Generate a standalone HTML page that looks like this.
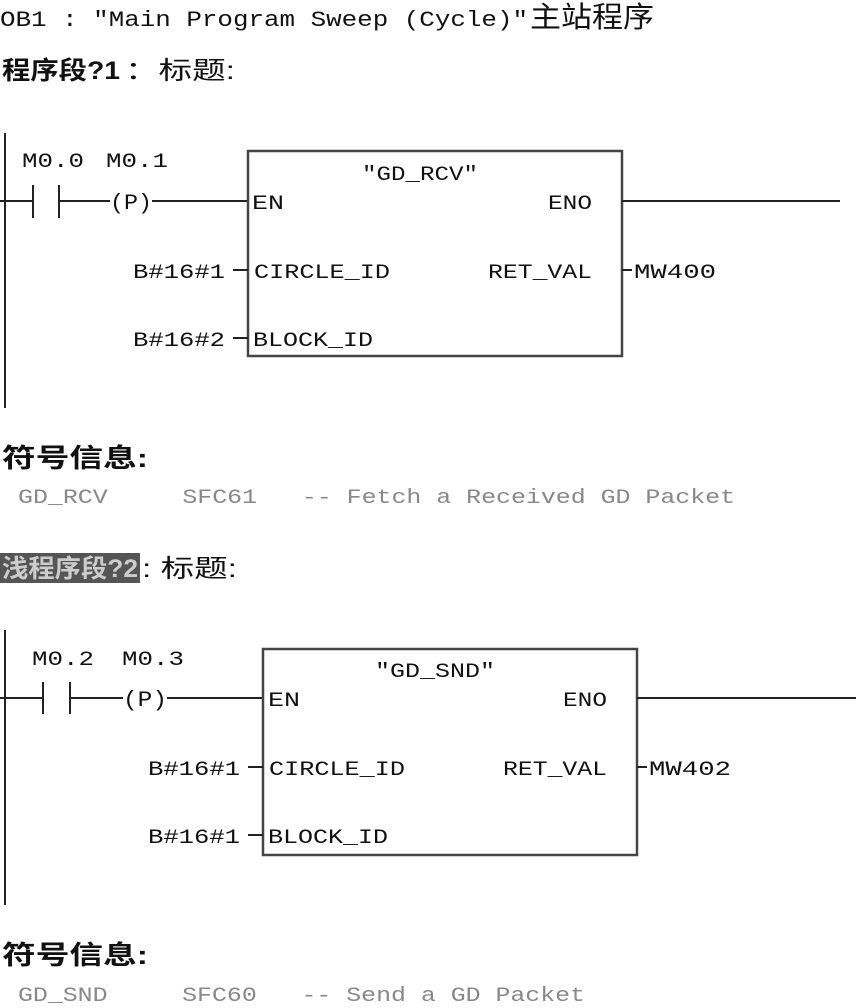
<!DOCTYPE html>
<html><head><meta charset="utf-8"><style>
html,body{margin:0;padding:0;background:#fff;width:856px;height:1008px;overflow:hidden}
svg{display:block}
.m{font-family:"Liberation Mono","Noto Serif CJK SC",monospace;fill:#111}
.c{font-family:"Liberation Sans","Noto Sans CJK SC",sans-serif;fill:#111}
.b{font-family:"Liberation Sans","Noto Sans CJK SC",sans-serif;font-weight:bold;fill:#111}
.g{font-family:"Liberation Mono",monospace;fill:#888}
</style></head><body>
<svg width="856" height="1008" viewBox="0 0 856 1008" xmlns="http://www.w3.org/2000/svg">
<g stroke="#222" stroke-width="2" fill="none">
<!-- network 1 -->
<line x1="5" y1="133" x2="5" y2="408"/>
<line x1="0" y1="201" x2="33" y2="201"/>
<line x1="33" y1="185" x2="33" y2="218"/>
<line x1="59" y1="185" x2="59" y2="218"/>
<line x1="59" y1="201" x2="110" y2="201"/>
<line x1="152" y1="201" x2="248" y2="201"/>
<rect x="248" y="151" width="374" height="205" stroke="#444" stroke-width="2.5"/>
<line x1="622" y1="201" x2="840" y2="201"/>
<line x1="233" y1="270" x2="248" y2="270"/>
<line x1="233" y1="338" x2="248" y2="338"/>
<line x1="622" y1="270" x2="632" y2="270"/>
<!-- network 2 -->
<line x1="5" y1="630" x2="5" y2="905"/>
<line x1="0" y1="698" x2="43" y2="698"/>
<line x1="43" y1="682" x2="43" y2="714"/>
<line x1="70" y1="682" x2="70" y2="714"/>
<line x1="70" y1="698" x2="123" y2="698"/>
<line x1="167" y1="698" x2="263" y2="698"/>
<rect x="263" y="649" width="374" height="206" stroke="#444" stroke-width="2.5"/>
<line x1="637" y1="698" x2="856" y2="698"/>
<line x1="248" y1="767" x2="263" y2="767"/>
<line x1="248" y1="835" x2="263" y2="835"/>
<line x1="637" y1="767" x2="647" y2="767"/>
</g>
<text class="m" x="0" y="26" font-size="22" textLength="528" lengthAdjust="spacingAndGlyphs">OB1 :  ″Main Program Sweep (Cycle)″</text>
<text class="c" x="530" y="27" font-size="29" textLength="124" lengthAdjust="spacingAndGlyphs">主站程序</text>
<text class="b" x="2" y="79" font-size="25" textLength="118" lengthAdjust="spacingAndGlyphs">程序段?1</text>
<text class="c" x="125" y="79" font-size="25" textLength="110" lengthAdjust="spacingAndGlyphs">：标题:</text>

<text class="m" x="22" y="167" font-size="20" textLength="62" lengthAdjust="spacingAndGlyphs">M0.0</text>
<text class="m" x="106" y="167" font-size="20" textLength="62" lengthAdjust="spacingAndGlyphs">M0.1</text>
<text class="m" x="110" y="209" font-size="22" textLength="42" lengthAdjust="spacingAndGlyphs">(P)</text>
<text class="m" x="362" y="180" font-size="20" textLength="116" lengthAdjust="spacingAndGlyphs">″GD_RCV″</text>
<text class="m" x="252" y="209" font-size="20" textLength="32" lengthAdjust="spacingAndGlyphs">EN</text>
<text class="m" x="548" y="209" font-size="20" textLength="44" lengthAdjust="spacingAndGlyphs">ENO</text>
<text class="m" x="133" y="278" font-size="20" textLength="92" lengthAdjust="spacingAndGlyphs">B#16#1</text>
<text class="m" x="254" y="278" font-size="20" textLength="136" lengthAdjust="spacingAndGlyphs">CIRCLE_ID</text>
<text class="m" x="488" y="278" font-size="20" textLength="104" lengthAdjust="spacingAndGlyphs">RET_VAL</text>
<text class="m" x="634" y="278" font-size="20" textLength="82" lengthAdjust="spacingAndGlyphs">MW400</text>
<text class="m" x="133" y="346" font-size="20" textLength="92" lengthAdjust="spacingAndGlyphs">B#16#2</text>
<text class="m" x="253" y="346" font-size="20" textLength="120" lengthAdjust="spacingAndGlyphs">BLOCK_ID</text>

<text class="b" x="2" y="467" font-size="26" textLength="146" lengthAdjust="spacingAndGlyphs">符号信息:</text>
<text class="g" x="18" y="503" font-size="20" textLength="717" lengthAdjust="spacingAndGlyphs" xml:space="preserve">GD_RCV     SFC61   -- Fetch a Received GD Packet</text>

<rect x="0" y="553" width="140" height="30" fill="#555"/>
<text class="b" x="2" y="577" font-size="25" textLength="136" lengthAdjust="spacingAndGlyphs" style="fill:#ccc">浅程序段?2</text>
<text class="c" x="142" y="577" font-size="25" textLength="95" lengthAdjust="spacingAndGlyphs">: 标题:</text>

<text class="m" x="32" y="665" font-size="20" textLength="62" lengthAdjust="spacingAndGlyphs">M0.2</text>
<text class="m" x="122" y="665" font-size="20" textLength="62" lengthAdjust="spacingAndGlyphs">M0.3</text>
<text class="m" x="123" y="706" font-size="22" textLength="44" lengthAdjust="spacingAndGlyphs">(P)</text>
<text class="m" x="375" y="677" font-size="20" textLength="120" lengthAdjust="spacingAndGlyphs">″GD_SND″</text>
<text class="m" x="268" y="706" font-size="20" textLength="32" lengthAdjust="spacingAndGlyphs">EN</text>
<text class="m" x="563" y="706" font-size="20" textLength="44" lengthAdjust="spacingAndGlyphs">ENO</text>
<text class="m" x="148" y="775" font-size="20" textLength="92" lengthAdjust="spacingAndGlyphs">B#16#1</text>
<text class="m" x="269" y="775" font-size="20" textLength="136" lengthAdjust="spacingAndGlyphs">CIRCLE_ID</text>
<text class="m" x="503" y="775" font-size="20" textLength="104" lengthAdjust="spacingAndGlyphs">RET_VAL</text>
<text class="m" x="649" y="775" font-size="20" textLength="82" lengthAdjust="spacingAndGlyphs">MW402</text>
<text class="m" x="148" y="843" font-size="20" textLength="92" lengthAdjust="spacingAndGlyphs">B#16#1</text>
<text class="m" x="268" y="843" font-size="20" textLength="120" lengthAdjust="spacingAndGlyphs">BLOCK_ID</text>

<text class="b" x="2" y="964" font-size="26" textLength="146" lengthAdjust="spacingAndGlyphs">符号信息:</text>
<text class="g" x="18" y="1001" font-size="20" textLength="567" lengthAdjust="spacingAndGlyphs" xml:space="preserve">GD_SND     SFC60   -- Send a GD Packet</text>
</svg>
</body></html>
